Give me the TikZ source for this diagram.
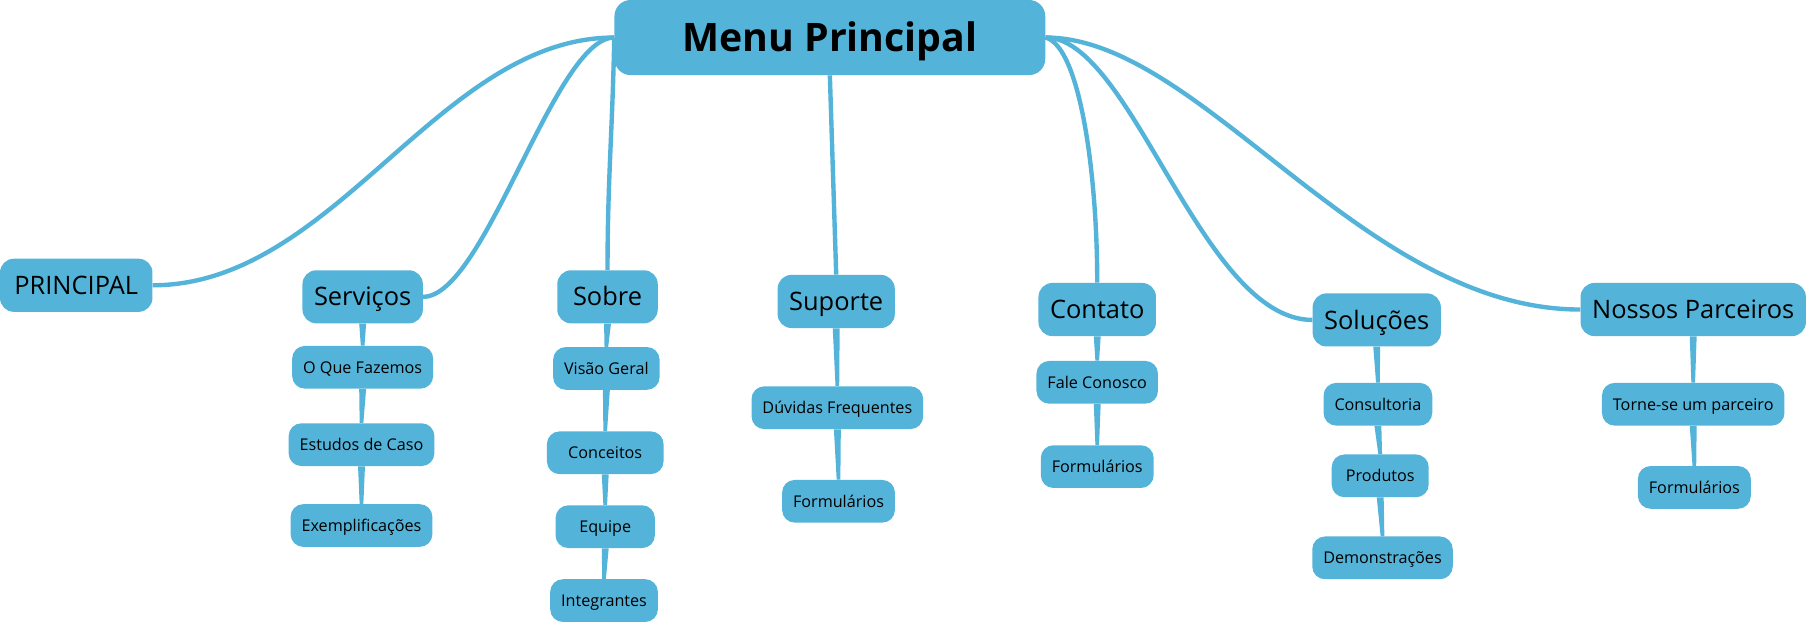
\documentclass[tikz,border=0pt]{standalone}
\usepackage{fontspec}
\setmainfont{Open Sans}
\usetikzlibrary{positioning}
\definecolor{mapblue}{HTML}{54B3D9}
% tapered link, wide at the parent and thin at the child
\newcommand{\twig}[2]{\fill [mapblue] ([xshift=-3pt]#1.south) -- ([xshift=3pt]#1.south) -- ([xshift=1.6pt]#2.north) -- ([xshift=-1.6pt]#2.north) -- cycle;}
\begin{document}
\begin{tikzpicture}[x=1pt,y=-1pt]
                \tikzstyle{every node}+=[fill=mapblue, text=black, text depth=0pt]
                \tikzstyle{topic}=[rounded corners=14pt, minimum width=373pt, minimum height=65pt, inner ysep=0pt, font=\bfseries\fontsize{34}{40}\selectfont, text height=24.3pt]
                \tikzstyle{branch}=[rounded corners=12pt, minimum height=46pt, inner xsep=10pt, inner ysep=0pt, font=\fontsize{22}{26}\selectfont, text height=15.7pt]
                \tikzstyle{leaf}=[rounded corners=11pt, minimum height=37pt, inner xsep=9.5pt, inner ysep=0pt, font=\fontsize{14}{17}\selectfont, text height=10pt]
                \tikzstyle{mainlink}=[draw=mapblue, line width=3.8pt]
                \useasboundingbox (0,0) rectangle (1568,538.5);
                % root
                \node [topic] (menu) at (718.5,32.5) {Menu Principal};
                % first level
                \node [branch, minimum width=132pt] (principal) at (66,247) {PRINCIPAL};
                \node [branch] (servicos) at (314,257) {Serviços};
                \node [branch, minimum width=87pt] (sobre) at (526,257) {Sobre};
                \node [branch] (suporte) at (724,261) {Suporte};
                \node [branch] (contato) at (950,268) {Contato};
                \node [branch] (solucoes) at (1192,277) {Soluções};
                \node [branch] (parceiros) at (1466,268) {Nossos Parceiros};
                % second level
                \node [leaf] (fazemos) at (314,318) {O Que Fazemos};
                \node [leaf] (estudos) at (313,385) {Estudos de Caso};
                \node [leaf] (exemplos) at (313,455) {Exemplificações};
                \node [leaf] (visao) at (525,319) {Visão Geral};
                \node [leaf, minimum width=101pt] (conceitos) at (524,392) {Conceitos};
                \node [leaf, minimum width=86pt] (equipe) at (524,456) {Equipe};
                \node [leaf] (integrantes) at (523,520) {Integrantes};
                \node [leaf] (duvidas) at (725,353) {Dúvidas Frequentes};
                \node [leaf] (formsup) at (726,434) {Formulários};
                \node [leaf] (fale) at (950,331) {Fale Conosco};
                \node [leaf] (formcon) at (950,404) {Formulários};
                \node [leaf] (consultoria) at (1193,350) {Consultoria};
                \node [leaf, minimum width=84pt] (produtos) at (1195,412) {Produtos};
                \node [leaf] (demos) at (1197,483) {Demonstrações};
                \node [leaf] (torne) at (1466,350) {Torne-se um parceiro};
                \node [leaf] (formpar) at (1467,422) {Formulários};
                % links from the root
                \draw [mainlink] (menu.west) .. controls (380,32.5) and (290,247) .. (principal.east);
                \draw [mainlink] (menu.west) .. controls (480,32.5) and (420,257) .. (servicos.east);
                \draw [mainlink] (menu.west) to [out=-91,in=90] (sobre.north);
                \draw [mainlink] (menu.south) -- (suporte.north);
                \draw [mainlink] (menu.east) .. controls (935,40) and (950,150) .. (contato.north);
                \draw [mainlink] (menu.east) .. controls (980,32.5) and (1040,277) .. (solucoes.west);
                \draw [mainlink] (menu.east) .. controls (1040,32.5) and (1180,268) .. (parceiros.west);
                % links in the columns
                \twig{servicos}{fazemos}
                \twig{fazemos}{estudos}
                \twig{estudos}{exemplos}
                \twig{sobre}{visao}
                \twig{visao}{conceitos}
                \twig{conceitos}{equipe}
                \twig{equipe}{integrantes}
                \twig{suporte}{duvidas}
                \twig{duvidas}{formsup}
                \twig{contato}{fale}
                \twig{fale}{formcon}
                \twig{solucoes}{consultoria}
                \twig{consultoria}{produtos}
                \twig{produtos}{demos}
                \twig{parceiros}{torne}
                \twig{torne}{formpar}
\end{tikzpicture}
\end{document}
